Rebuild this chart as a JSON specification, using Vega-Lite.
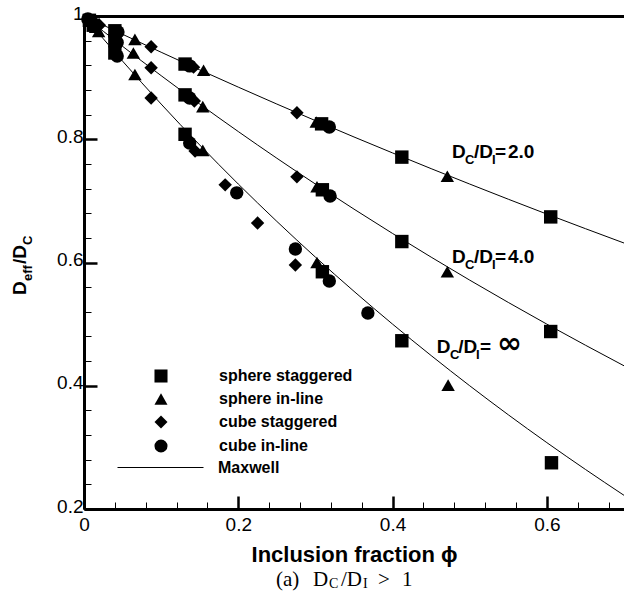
{
  "$schema": "https://vega.github.io/schema/vega-lite/v6.json",
  "width": 540,
  "height": 493,
  "autosize": {"type": "none"},
  "padding": {"left": 84, "top": 16, "right": 0, "bottom": 83},
  "background": "white",
  "config": {
    "view": {"stroke": "black", "strokeWidth": 1},
    "font": "Liberation Sans",
    "axis": {"grid": false, "labelColor": "black", "tickColor": "black", "domainColor": "black", "titleColor": "black", "labelFont": "Liberation Sans", "titleFont": "Liberation Sans"}
  },
  "datasets": {
    "curves": [
      {"phi": 0, "v": 1, "ratio": "2.0", "model": "Maxwell"},
      {"phi": 0.05, "v": 0.9703, "ratio": "2.0", "model": "Maxwell"},
      {"phi": 0.1, "v": 0.9412, "ratio": "2.0", "model": "Maxwell"},
      {"phi": 0.15, "v": 0.9126, "ratio": "2.0", "model": "Maxwell"},
      {"phi": 0.2, "v": 0.8846, "ratio": "2.0", "model": "Maxwell"},
      {"phi": 0.25, "v": 0.8571, "ratio": "2.0", "model": "Maxwell"},
      {"phi": 0.3, "v": 0.8302, "ratio": "2.0", "model": "Maxwell"},
      {"phi": 0.35, "v": 0.8037, "ratio": "2.0", "model": "Maxwell"},
      {"phi": 0.4, "v": 0.7778, "ratio": "2.0", "model": "Maxwell"},
      {"phi": 0.45, "v": 0.7523, "ratio": "2.0", "model": "Maxwell"},
      {"phi": 0.5, "v": 0.7273, "ratio": "2.0", "model": "Maxwell"},
      {"phi": 0.55, "v": 0.7027, "ratio": "2.0", "model": "Maxwell"},
      {"phi": 0.6, "v": 0.6786, "ratio": "2.0", "model": "Maxwell"},
      {"phi": 0.65, "v": 0.6549, "ratio": "2.0", "model": "Maxwell"},
      {"phi": 0.7, "v": 0.6316, "ratio": "2.0", "model": "Maxwell"},
      {"phi": 0, "v": 1, "ratio": "4.0", "model": "Maxwell"},
      {"phi": 0.05, "v": 0.9508, "ratio": "4.0", "model": "Maxwell"},
      {"phi": 0.1, "v": 0.9032, "ratio": "4.0", "model": "Maxwell"},
      {"phi": 0.15, "v": 0.8571, "ratio": "4.0", "model": "Maxwell"},
      {"phi": 0.2, "v": 0.8125, "ratio": "4.0", "model": "Maxwell"},
      {"phi": 0.25, "v": 0.7692, "ratio": "4.0", "model": "Maxwell"},
      {"phi": 0.3, "v": 0.7273, "ratio": "4.0", "model": "Maxwell"},
      {"phi": 0.35, "v": 0.6866, "ratio": "4.0", "model": "Maxwell"},
      {"phi": 0.4, "v": 0.6471, "ratio": "4.0", "model": "Maxwell"},
      {"phi": 0.45, "v": 0.6087, "ratio": "4.0", "model": "Maxwell"},
      {"phi": 0.5, "v": 0.5714, "ratio": "4.0", "model": "Maxwell"},
      {"phi": 0.55, "v": 0.5352, "ratio": "4.0", "model": "Maxwell"},
      {"phi": 0.6, "v": 0.5, "ratio": "4.0", "model": "Maxwell"},
      {"phi": 0.65, "v": 0.4658, "ratio": "4.0", "model": "Maxwell"},
      {"phi": 0.7, "v": 0.4324, "ratio": "4.0", "model": "Maxwell"},
      {"phi": 0, "v": 1, "ratio": "inf", "model": "Maxwell"},
      {"phi": 0.05, "v": 0.9268, "ratio": "inf", "model": "Maxwell"},
      {"phi": 0.1, "v": 0.8571, "ratio": "inf", "model": "Maxwell"},
      {"phi": 0.15, "v": 0.7907, "ratio": "inf", "model": "Maxwell"},
      {"phi": 0.2, "v": 0.7273, "ratio": "inf", "model": "Maxwell"},
      {"phi": 0.25, "v": 0.6667, "ratio": "inf", "model": "Maxwell"},
      {"phi": 0.3, "v": 0.6087, "ratio": "inf", "model": "Maxwell"},
      {"phi": 0.35, "v": 0.5532, "ratio": "inf", "model": "Maxwell"},
      {"phi": 0.4, "v": 0.5, "ratio": "inf", "model": "Maxwell"},
      {"phi": 0.45, "v": 0.449, "ratio": "inf", "model": "Maxwell"},
      {"phi": 0.5, "v": 0.4, "ratio": "inf", "model": "Maxwell"},
      {"phi": 0.55, "v": 0.3529, "ratio": "inf", "model": "Maxwell"},
      {"phi": 0.6, "v": 0.3077, "ratio": "inf", "model": "Maxwell"},
      {"phi": 0.65, "v": 0.2642, "ratio": "inf", "model": "Maxwell"},
      {"phi": 0.7, "v": 0.2222, "ratio": "inf", "model": "Maxwell"}
    ],
    "points": [
      {"phi": 0.005, "v": 0.995, "series": "cube in-line"},
      {"phi": 0.007, "v": 0.993, "series": "sphere staggered"},
      {"phi": 0.01, "v": 0.99, "series": "cube in-line"},
      {"phi": 0.012, "v": 0.988, "series": "cube staggered"},
      {"phi": 0.012, "v": 0.985, "series": "sphere staggered"},
      {"phi": 0.015, "v": 0.982, "series": "sphere in-line"},
      {"phi": 0.019, "v": 0.975, "series": "sphere in-line"},
      {"phi": 0.02, "v": 0.985, "series": "cube staggered"},
      {"phi": 0.04, "v": 0.976, "series": "sphere staggered"},
      {"phi": 0.044, "v": 0.974, "series": "cube in-line"},
      {"phi": 0.04, "v": 0.96, "series": "sphere staggered"},
      {"phi": 0.043, "v": 0.957, "series": "cube in-line"},
      {"phi": 0.04, "v": 0.94, "series": "sphere staggered"},
      {"phi": 0.043, "v": 0.935, "series": "cube in-line"},
      {"phi": 0.066, "v": 0.962, "series": "sphere in-line"},
      {"phi": 0.064, "v": 0.94, "series": "sphere in-line"},
      {"phi": 0.066, "v": 0.905, "series": "sphere in-line"},
      {"phi": 0.087, "v": 0.95, "series": "cube staggered"},
      {"phi": 0.087, "v": 0.916, "series": "cube staggered"},
      {"phi": 0.087, "v": 0.867, "series": "cube staggered"},
      {"phi": 0.131, "v": 0.922, "series": "sphere staggered"},
      {"phi": 0.137, "v": 0.919, "series": "cube in-line"},
      {"phi": 0.142, "v": 0.917, "series": "cube staggered"},
      {"phi": 0.155, "v": 0.912, "series": "sphere in-line"},
      {"phi": 0.131, "v": 0.872, "series": "sphere staggered"},
      {"phi": 0.137, "v": 0.867, "series": "cube in-line"},
      {"phi": 0.143, "v": 0.862, "series": "cube staggered"},
      {"phi": 0.154, "v": 0.853, "series": "sphere in-line"},
      {"phi": 0.131, "v": 0.808, "series": "sphere staggered"},
      {"phi": 0.137, "v": 0.794, "series": "cube in-line"},
      {"phi": 0.144, "v": 0.781, "series": "cube staggered"},
      {"phi": 0.154, "v": 0.782, "series": "sphere in-line"},
      {"phi": 0.183, "v": 0.726, "series": "cube staggered"},
      {"phi": 0.198, "v": 0.713, "series": "cube in-line"},
      {"phi": 0.225, "v": 0.664, "series": "cube staggered"},
      {"phi": 0.276, "v": 0.843, "series": "cube staggered"},
      {"phi": 0.301, "v": 0.828, "series": "sphere in-line"},
      {"phi": 0.308, "v": 0.825, "series": "sphere staggered"},
      {"phi": 0.318, "v": 0.82, "series": "cube in-line"},
      {"phi": 0.276, "v": 0.739, "series": "cube staggered"},
      {"phi": 0.302, "v": 0.723, "series": "sphere in-line"},
      {"phi": 0.309, "v": 0.718, "series": "sphere staggered"},
      {"phi": 0.319, "v": 0.708, "series": "cube in-line"},
      {"phi": 0.274, "v": 0.622, "series": "cube in-line"},
      {"phi": 0.274, "v": 0.596, "series": "cube staggered"},
      {"phi": 0.302, "v": 0.6, "series": "sphere in-line"},
      {"phi": 0.309, "v": 0.585, "series": "sphere staggered"},
      {"phi": 0.318, "v": 0.57, "series": "cube in-line"},
      {"phi": 0.368, "v": 0.518, "series": "cube in-line"},
      {"phi": 0.412, "v": 0.771, "series": "sphere staggered"},
      {"phi": 0.471, "v": 0.74, "series": "sphere in-line"},
      {"phi": 0.605, "v": 0.674, "series": "sphere staggered"},
      {"phi": 0.412, "v": 0.634, "series": "sphere staggered"},
      {"phi": 0.471, "v": 0.585, "series": "sphere in-line"},
      {"phi": 0.605, "v": 0.488, "series": "sphere staggered"},
      {"phi": 0.412, "v": 0.473, "series": "sphere staggered"},
      {"phi": 0.472, "v": 0.401, "series": "sphere in-line"},
      {"phi": 0.606, "v": 0.275, "series": "sphere staggered"}
    ],
    "anno": [
      {"phi": 0.477, "v": 0.7691, "t": "D"},
      {"phi": 0.5056, "v": 0.7691, "t": "/D"},
      {"phi": 0.5328, "v": 0.7691, "t": "="},
      {"phi": 0.5496, "v": 0.7691, "t": "2.0"},
      {"phi": 0.477, "v": 0.5992, "t": "D"},
      {"phi": 0.5056, "v": 0.5992, "t": "/D"},
      {"phi": 0.5328, "v": 0.5992, "t": "="},
      {"phi": 0.5496, "v": 0.5992, "t": "4.0"},
      {"phi": 0.4572, "v": 0.4527, "t": "D"},
      {"phi": 0.4852, "v": 0.4527, "t": "/D"},
      {"phi": 0.5133, "v": 0.4527, "t": "="}
    ],
    "annoSub": [
      {"phi": 0.4939, "v": 0.7691, "t": "C"},
      {"phi": 0.5289, "v": 0.7691, "t": "I"},
      {"phi": 0.4939, "v": 0.5992, "t": "C"},
      {"phi": 0.5289, "v": 0.5992, "t": "I"},
      {"phi": 0.4744, "v": 0.4527, "t": "C"},
      {"phi": 0.5082, "v": 0.4527, "t": "I"}
    ],
    "inf": [
      {"phi": 0.5354, "v": 0.4527, "t": "∞"}
    ],
    "ytitle": [
      {"phi": -0.0752, "v": 0.5473, "t": "D"},
      {"phi": -0.0752, "v": 0.5976, "t": "/D"}
    ],
    "ytitleSub": [
      {"phi": -0.0752, "v": 0.57, "t": "eff"},
      {"phi": -0.0752, "v": 0.6284, "t": "C"}
    ],
    "cap": [
      {"phi": 0.2489, "v": 0.075, "t": "(a)"},
      {"phi": 0.2969, "v": 0.075, "t": "D"},
      {"phi": 0.3331, "v": 0.075, "t": "/D"},
      {"phi": 0.3811, "v": 0.075, "t": ">"},
      {"phi": 0.4122, "v": 0.075, "t": "1"}
    ],
    "capSub": [
      {"phi": 0.3176, "v": 0.075, "t": "C"},
      {"phi": 0.3616, "v": 0.075, "t": "I"}
    ]
  },
  "resolve": {"axis": {"x": "independent", "y": "independent"}},
  "layer": [
    {
      "data": {"name": "curves"},
      "mark": {"type": "line", "strokeWidth": 1, "interpolate": "monotone", "clip": true},
      "encoding": {
        "x": {"field": "phi", "type": "quantitative", "scale": {"domain": [0, 0.7], "nice": false, "zero": false},
          "axis": {"orient": "bottom", "values": [0, 0.2, 0.4, 0.6], "format": ".1~f", "tickSize": -13, "tickWidth": 2.5, "domainWidth": 3, "labelFontSize": 19, "labelPadding": 19, "labelFlush": false, "labelOverlap": false,
            "title": "Inclusion fraction ϕ", "titleFontSize": 22, "titleFontWeight": "bold", "titleBaseline": "alphabetic", "titleY": 52}},
        "y": {"field": "v", "type": "quantitative", "scale": {"domain": [0.2, 1], "nice": false, "zero": false},
          "axis": {"orient": "left", "values": [0.2, 0.4, 0.6, 0.8, 1], "format": ".1~f", "tickSize": -13, "tickWidth": 2.5, "domainWidth": 3, "labelFontSize": 19, "labelPadding": 14, "labelOffset": -3, "labelFlush": false, "labelOverlap": false, "title": null}},
        "detail": {"field": "ratio"},
        "stroke": {"field": "model", "type": "nominal", "scale": {"domain": ["Maxwell"], "range": ["black"]},
          "legend": {"orient": "none", "legendX": 33, "legendY": 408, "title": null, "symbolType": "stroke", "symbolSize": 7396, "symbolStrokeWidth": 1, "labelOffset": 14, "labelFontSize": 16, "labelFontWeight": "bold", "labelFont": "Liberation Sans", "labelColor": "black", "padding": 0}}
      }
    },
    {
      "data": {"name": "points"},
      "mark": {"type": "point", "filled": true, "color": "black", "opacity": 1, "size": 180},
      "encoding": {
        "x": {"field": "phi", "type": "quantitative", "scale": {"domain": [0, 0.7], "nice": false, "zero": false},
          "axis": {"orient": "bottom", "values": [0.04, 0.08, 0.12, 0.16, 0.24, 0.28, 0.32, 0.36, 0.44, 0.48, 0.52, 0.56, 0.64, 0.68], "tickSize": -7, "tickWidth": 1, "domain": false, "labels": false, "title": null}},
        "y": {"field": "v", "type": "quantitative", "scale": {"domain": [0.2, 1], "nice": false, "zero": false},
          "axis": {"orient": "left", "values": [0.24, 0.28, 0.32, 0.36, 0.44, 0.48, 0.52, 0.56, 0.64, 0.68, 0.72, 0.76, 0.84, 0.88, 0.92, 0.96], "tickSize": -7, "tickWidth": 1, "domain": false, "labels": false, "title": null}},
        "shape": {"field": "series", "type": "nominal",
          "scale": {"domain": ["sphere staggered", "sphere in-line", "cube staggered", "cube in-line"], "range": ["square", "triangle-up", "diamond", "circle"]},
          "legend": {"orient": "none", "legendX": 69, "legendY": 352, "title": null, "labelFontSize": 16, "labelFontWeight": "bold", "labelFont": "Liberation Sans", "labelColor": "black", "labelOffset": 50, "rowPadding": 4, "symbolSize": 170, "symbolFillColor": "black", "symbolStrokeColor": "black", "padding": 0}}
      }
    },
    {
      "data": {"name": "anno"},
      "mark": {"type": "text", "font": "Liberation Sans", "fontSize": 19, "fontWeight": "bold", "align": "left", "baseline": "alphabetic", "color": "black"},
      "encoding": {
        "x": {"field": "phi", "type": "quantitative", "scale": {"domain": [0, 0.7], "nice": false, "zero": false},
          "axis": {"orient": "top", "domainWidth": 3, "ticks": false, "labels": false, "title": null}},
        "y": {"field": "v", "type": "quantitative", "scale": {"domain": [0.2, 1], "nice": false, "zero": false}, "axis": null},
        "text": {"field": "t"}
      }
    },
    {
      "data": {"name": "annoSub"},
      "mark": {"type": "text", "font": "Liberation Sans", "fontSize": 13, "fontWeight": "bold", "align": "left", "baseline": "alphabetic", "dy": 6, "color": "black"},
      "encoding": {
        "x": {"field": "phi", "type": "quantitative", "scale": {"domain": [0, 0.7], "nice": false, "zero": false}, "axis": null},
        "y": {"field": "v", "type": "quantitative", "scale": {"domain": [0.2, 1], "nice": false, "zero": false}, "axis": null},
        "text": {"field": "t"}
      }
    },
    {
      "data": {"name": "inf"},
      "mark": {"type": "text", "font": "DejaVu Sans", "fontSize": 30, "fontWeight": "bold", "align": "left", "baseline": "alphabetic", "color": "black"},
      "encoding": {
        "x": {"field": "phi", "type": "quantitative", "scale": {"domain": [0, 0.7], "nice": false, "zero": false}, "axis": null},
        "y": {"field": "v", "type": "quantitative", "scale": {"domain": [0.2, 1], "nice": false, "zero": false}, "axis": null},
        "text": {"field": "t"}
      }
    },
    {
      "data": {"name": "ytitle"},
      "mark": {"type": "text", "font": "Liberation Sans", "fontSize": 19, "fontWeight": "bold", "align": "left", "baseline": "alphabetic", "angle": 270, "color": "black"},
      "encoding": {
        "x": {"field": "phi", "type": "quantitative", "scale": {"domain": [0, 0.7], "nice": false, "zero": false}, "axis": null},
        "y": {"field": "v", "type": "quantitative", "scale": {"domain": [0.2, 1], "nice": false, "zero": false}, "axis": null},
        "text": {"field": "t"}
      }
    },
    {
      "data": {"name": "ytitleSub"},
      "mark": {"type": "text", "font": "Liberation Sans", "fontSize": 13, "fontWeight": "bold", "align": "left", "baseline": "alphabetic", "angle": 270, "dy": 6, "color": "black"},
      "encoding": {
        "x": {"field": "phi", "type": "quantitative", "scale": {"domain": [0, 0.7], "nice": false, "zero": false}, "axis": null},
        "y": {"field": "v", "type": "quantitative", "scale": {"domain": [0.2, 1], "nice": false, "zero": false}, "axis": null},
        "text": {"field": "t"}
      }
    },
    {
      "data": {"name": "cap"},
      "mark": {"type": "text", "font": "Liberation Serif", "fontSize": 21, "align": "left", "baseline": "alphabetic", "color": "black"},
      "encoding": {
        "x": {"field": "phi", "type": "quantitative", "scale": {"domain": [0, 0.7], "nice": false, "zero": false}, "axis": null},
        "y": {"field": "v", "type": "quantitative", "scale": {"domain": [0.2, 1], "nice": false, "zero": false}, "axis": null},
        "text": {"field": "t"}
      }
    },
    {
      "data": {"name": "capSub"},
      "mark": {"type": "text", "font": "Liberation Serif", "fontSize": 14, "align": "left", "baseline": "alphabetic", "dy": 2, "color": "black"},
      "encoding": {
        "x": {"field": "phi", "type": "quantitative", "scale": {"domain": [0, 0.7], "nice": false, "zero": false}, "axis": null},
        "y": {"field": "v", "type": "quantitative", "scale": {"domain": [0.2, 1], "nice": false, "zero": false}, "axis": null},
        "text": {"field": "t"}
      }
    }
  ]
}
